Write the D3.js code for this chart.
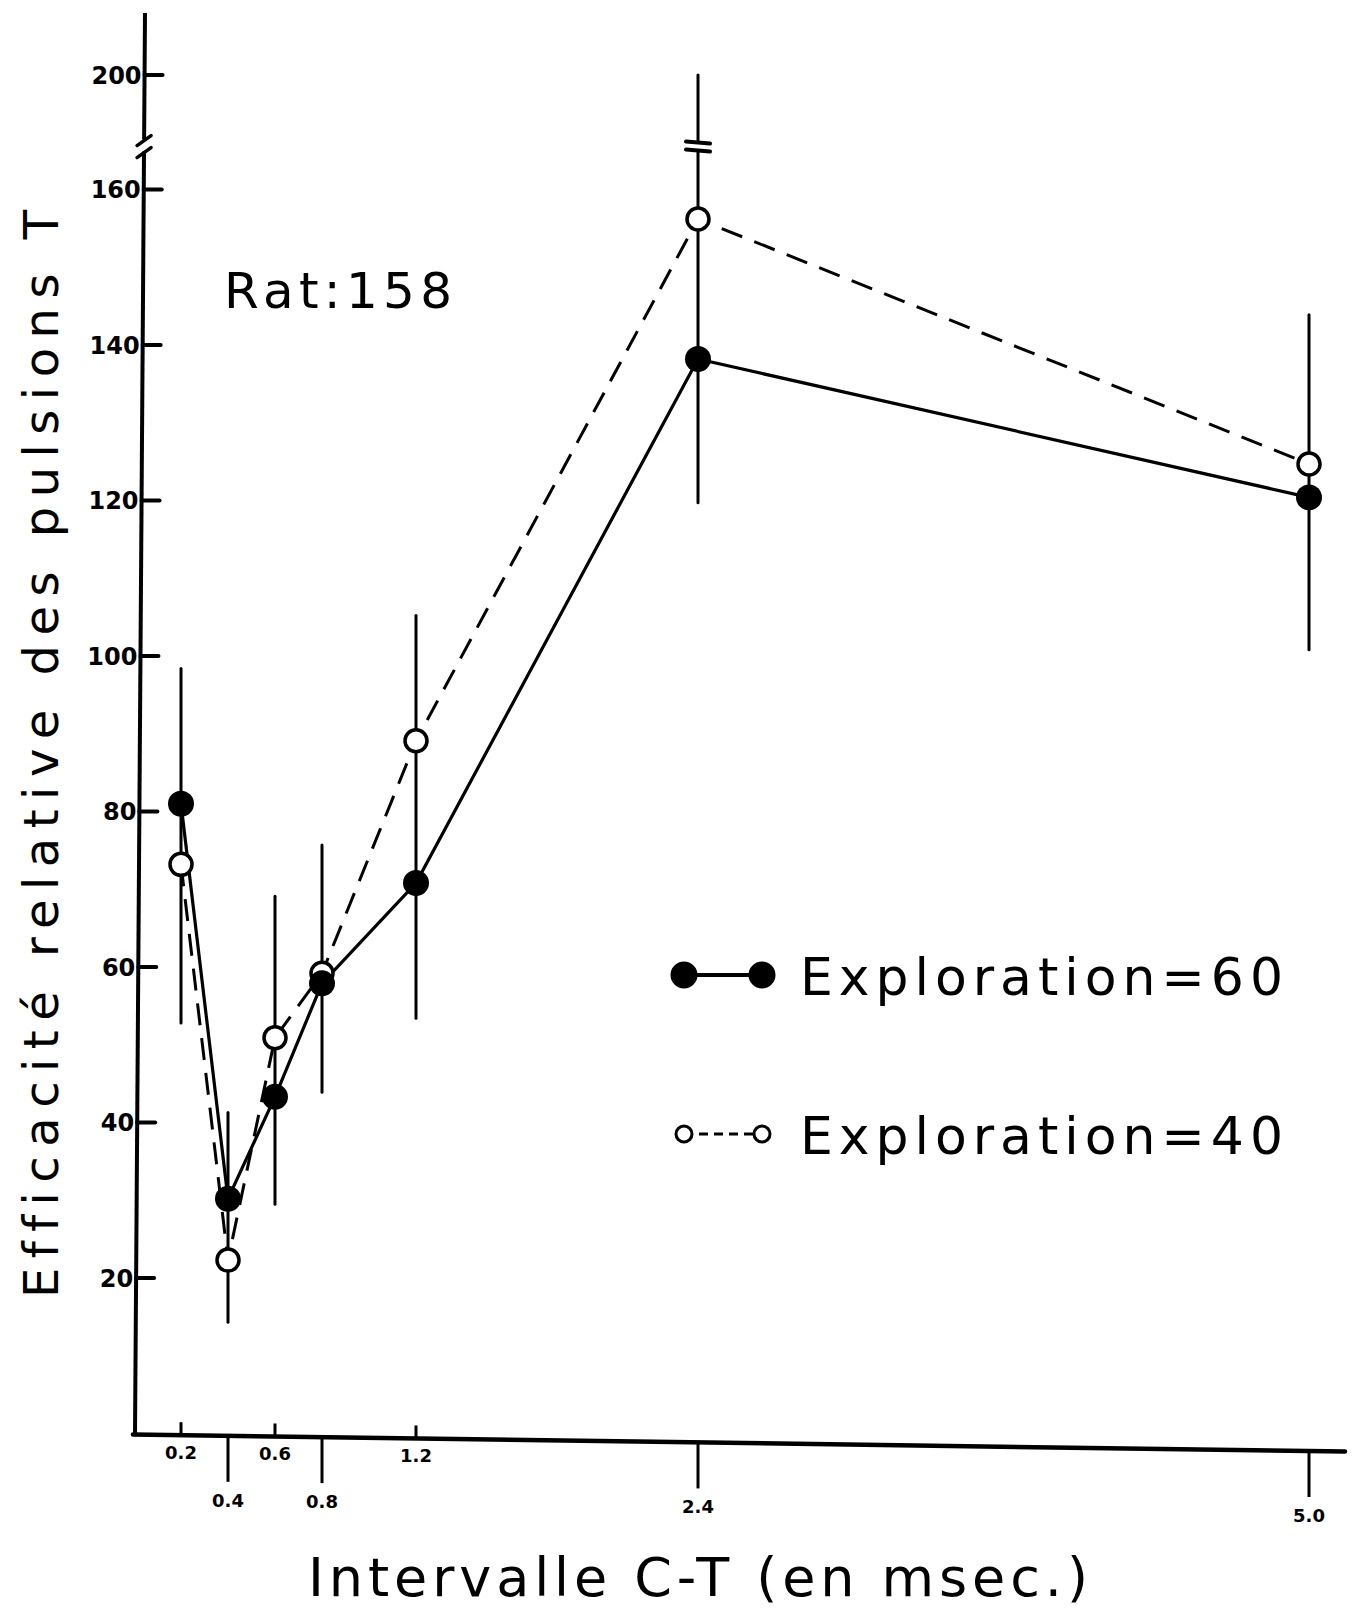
<!DOCTYPE html>
<html>
<head>
<meta charset="utf-8">
<script src="https://cdn.jsdelivr.net/npm/d3@7"></script>
<style>
  body { margin: 0; background: #fff; }
  svg { display: block; }
  text { font-variant-ligatures: none; }
</style>
</head>
<body>
<div id="wrapper"></div>
<script>
// data (Rat 158)
var intervals = [0.2, 0.4, 0.6, 0.8, 1.2, 2.4, 5.0];
var exploration60 = [81.0, 30.2, 43.3, 57.9, 70.8, 138.2, 120.4];
var exploration40 = [73.2, 22.3, 50.9, 59.2, 89.1, 156.2, 124.7];
var barHigh = [98.4, 41.3, 69.1, 75.7, 105.2, 200, 143.9];
var barLow = [52.8, 14.3, 29.5, 43.9, 53.4, 119.7, 100.8];
var yTicks = [20, 40, 60, 80, 100, 120, 140, 160, 200];
var xTicksUp = [0.2, 0.6, 1.2];          // short ticks, label under the axis
var xTicksDown = [0.4, 0.8, 2.4, 5.0];   // long ticks hanging below
var xTickLabels = {0.2: "0.2", 0.4: "0.4", 0.6: "0.6", 0.8: "0.8", 1.2: "1.2", 2.4: "2.4", 5.0: "5.0"};
var breakValue = 175;

var width = 1355, height = 1610;

var svg = d3.select("#wrapper").append("svg")
  .attr("width", width)
  .attr("height", height);

// scales - y axis is broken between 160 and 200
var x = d3.scaleLinear().domain([0, 5]).range([134, 1309]);
var y = d3.scaleLinear().domain([0, 160, 200]).range([1433.5, 189.5, 75]);

// the hand drawn axes are a little crooked
var axisTop = 13, axisRight = 1345;
var yAxisX = d3.scaleLinear().domain([y(0), axisTop]).range([x(0) + 1, x(0) + 11]);
var xAxisY = d3.scaleLinear().domain([x(0), axisRight]).range([y(0) + 1, y(0) + 18]);

var font = "'DejaVu Sans', sans-serif";

// y axis
svg.append("line")
  .attr("x1", yAxisX(y(0))).attr("x2", yAxisX(axisTop))
  .attr("y1", y(0) + 2).attr("y2", axisTop)
  .attr("stroke", "#000").attr("stroke-width", 4);

// break marks on the y axis
var by = y(breakValue), bx = yAxisX(by);
svg.append("rect")
  .attr("x", bx - 5).attr("y", by - 7)
  .attr("width", 10).attr("height", 12)
  .attr("fill", "#fff");
[-6, 6].forEach(function(o) {
  svg.append("line")
    .attr("x1", bx - 7).attr("x2", bx + 7)
    .attr("y1", by + o + 5).attr("y2", by + o - 5)
    .attr("stroke", "#000").attr("stroke-width", 3.5)
    .attr("stroke-linecap", "round");
});

var yt = svg.append("g").selectAll("g")
    .data(yTicks)
  .enter().append("g")
    .attr("transform", function(d) { return "translate(" + yAxisX(y(d)) + "," + y(d) + ")"; });
yt.append("line")
  .attr("x1", 0).attr("x2", 18)
  .attr("stroke", "#000").attr("stroke-width", 4)
  .attr("stroke-linecap", "round");
yt.append("text")
  .attr("x", -3).attr("dy", "0.36em")
  .attr("text-anchor", "end")
  .style("font-family", font).style("font-weight", "bold").style("font-size", "24px")
  .text(function(d) { return d; });

// x axis
svg.append("line")
  .attr("x1", x(0) - 1).attr("x2", axisRight)
  .attr("y1", xAxisY(x(0))).attr("y2", xAxisY(axisRight))
  .attr("stroke", "#000").attr("stroke-width", 4.5)
  .attr("stroke-linecap", "round");

svg.append("g").selectAll("line")
    .data(xTicksUp)
  .enter().append("line")
    .attr("x1", function(d) { return x(d); }).attr("x2", function(d) { return x(d); })
    .attr("y1", function(d) { return xAxisY(x(d)); })
    .attr("y2", function(d) { return xAxisY(x(d)) - 13; })
    .attr("stroke", "#000").attr("stroke-width", 3);
svg.append("g").selectAll("text")
    .data(xTicksUp)
  .enter().append("text")
    .attr("x", function(d) { return x(d); })
    .attr("y", function(d) { return xAxisY(x(d)) + 24; })
    .attr("text-anchor", "middle")
    .style("font-family", font).style("font-weight", "bold").style("font-size", "18px")
    .text(function(d) { return xTickLabels[d]; });

svg.append("g").selectAll("line")
    .data(xTicksDown)
  .enter().append("line")
    .attr("x1", function(d) { return x(d); }).attr("x2", function(d) { return x(d); })
    .attr("y1", function(d) { return xAxisY(x(d)); })
    .attr("y2", function(d) { return xAxisY(x(d)) + 46; })
    .attr("stroke", "#000").attr("stroke-width", 3);
svg.append("g").selectAll("text")
    .data(xTicksDown)
  .enter().append("text")
    .attr("x", function(d) { return x(d); })
    .attr("y", function(d) { return xAxisY(x(d)) + 71; })
    .attr("text-anchor", "middle")
    .style("font-family", font).style("font-weight", "bold").style("font-size", "18px")
    .text(function(d) { return xTickLabels[d]; });

// error bars
var bars = intervals.map(function(d, i) { return {x: d, lo: barLow[i], hi: barHigh[i]}; });
svg.append("g").selectAll("line")
    .data(bars)
  .enter().append("line")
    .attr("x1", function(d) { return x(d.x); }).attr("x2", function(d) { return x(d.x); })
    .attr("y1", function(d) { return y(d.lo); }).attr("y2", function(d) { return y(d.hi); })
    .attr("stroke", "#000").attr("stroke-width", 3)
    .attr("stroke-linecap", "round");

// break on the 2.4 bar (it goes off the scale)
var brk = bars.filter(function(d) { return d.hi > 160; });
brk.forEach(function(d) {
  svg.append("rect")
    .attr("x", x(d.x) - 4).attr("y", y(breakValue) - 4)
    .attr("width", 8).attr("height", 8).attr("fill", "#fff");
  [-4, 4].forEach(function(o) {
    svg.append("line")
      .attr("x1", x(d.x) - 12).attr("x2", x(d.x) + 12)
      .attr("y1", y(breakValue) + o - 1).attr("y2", y(breakValue) + o + 1)
      .attr("stroke", "#000").attr("stroke-width", 4)
      .attr("stroke-linecap", "round");
  });
});

// lines
var line = d3.line()
  .x(function(d) { return x(d[0]); })
  .y(function(d) { return y(d[1]); });

var pts40 = d3.zip(intervals, exploration40);
var pts60 = d3.zip(intervals, exploration60);

svg.append("path")
  .attr("d", line(pts40))
  .attr("fill", "none").attr("stroke", "#000").attr("stroke-width", 3)
  .attr("stroke-dasharray", "22,13");

svg.append("path")
  .attr("d", line(pts60))
  .attr("fill", "none").attr("stroke", "#000").attr("stroke-width", 3.2);

// markers
svg.append("g").selectAll("circle")
    .data(pts40)
  .enter().append("circle")
    .attr("cx", function(d) { return x(d[0]); })
    .attr("cy", function(d) { return y(d[1]); })
    .attr("r", 11)
    .attr("fill", "#fff").attr("stroke", "#000").attr("stroke-width", 3.5);

svg.append("g").selectAll("circle")
    .data(pts60)
  .enter().append("circle")
    .attr("cx", function(d) { return x(d[0]); })
    .attr("cy", function(d) { return y(d[1]); })
    .attr("r", 13)
    .attr("fill", "#000");

// axis titles
svg.append("text")
  .attr("transform", "translate(58,1298) rotate(-90)")
  .attr("textLength", 1088).attr("lengthAdjust", "spacing")
  .style("font-family", font).style("font-size", "48px")
  .text("Efficacité relative des pulsions T");

svg.append("text")
  .attr("x", 308).attr("y", 1596)
  .attr("textLength", 780).attr("lengthAdjust", "spacing")
  .style("font-family", font).style("font-size", "54px")
  .text("Intervalle C-T (en msec.)");

svg.append("text")
  .attr("x", 224).attr("y", 308)
  .attr("textLength", 228).attr("lengthAdjust", "spacing")
  .style("font-family", font).style("font-size", "50px")
  .text("Rat:158");

// legend
var legend = [
  {label: "Exploration=60", filled: true, y: 975},
  {label: "Exploration=40", filled: false, y: 1134}
];
var lg = svg.append("g").selectAll("g")
    .data(legend)
  .enter().append("g")
    .attr("transform", function(d) { return "translate(0," + d.y + ")"; });
lg.append("line")
  .attr("x1", 684).attr("x2", 762)
  .attr("stroke", "#000").attr("stroke-width", function(d) { return d.filled ? 4 : 3; })
  .attr("stroke-dasharray", function(d) { return d.filled ? null : "9,6"; });
lg.selectAll("circle")
    .data(function(d) { return [d, d]; })
  .enter().append("circle")
    .attr("cx", function(d, i) { return i ? 762 : 684; })
    .attr("r", function(d) { return d.filled ? 12 : 8; })
    .attr("fill", function(d) { return d.filled ? "#000" : "#fff"; })
    .attr("stroke", "#000").attr("stroke-width", 3);
lg.append("text")
  .attr("x", 800).attr("y", 20)
  .attr("textLength", 483).attr("lengthAdjust", "spacing")
  .style("font-family", font).style("font-size", "52px")
  .text(function(d) { return d.label; });
</script>
</body>
</html>
